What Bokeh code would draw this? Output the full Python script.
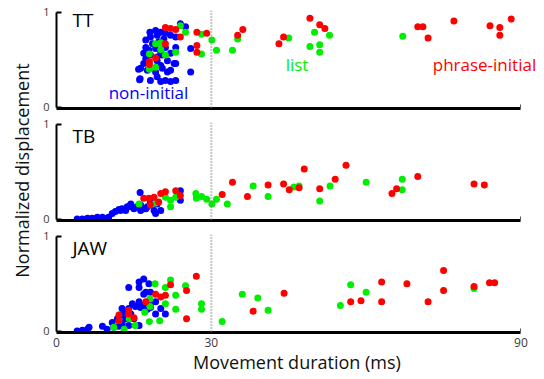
from bokeh.plotting import figure
from bokeh.layouts import row, column
from bokeh.models import Range1d, FixedTicker, Span, Label
from bokeh.embed import file_html
from bokeh.resources import INLINE

# ---------------- data (x = movement duration in ms, y = normalized displacement) -------------
tt_blue_x = [18.1, 19.2, 20.2, 21.1, 22.1, 23.1, 25.0, 24.0, 18.2, 19.5, 20.8, 17.3, 18.6, 19.8,
             17.3, 17.9, 19.2, 20.2, 21.1, 22.1, 16.9, 17.3, 18.2, 19.5, 20.5, 21.5, 22.8, 16.9,
             16.3, 17.6, 19.2, 20.5, 21.5, 22.1, 19.5, 21.1, 22.1, 20.2, 18.2, 16.2, 23.1, 26.0,
             26.0, 23.1, 19.5, 20.2, 15.9, 16.1, 23.1]
tt_blue_y = [0.79, 0.81, 0.79, 0.78, 0.76, 0.74, 0.85, 0.88, 0.74, 0.76, 0.72, 0.71, 0.67, 0.69,
             0.63, 0.60, 0.62, 0.58, 0.63, 0.57, 0.57, 0.51, 0.55, 0.53, 0.55, 0.49, 0.46, 0.46,
             0.41, 0.39, 0.37, 0.41, 0.37, 0.39, 0.32, 0.28, 0.27, 0.27, 0.28, 0.30, 0.28, 0.37,
             0.62, 0.46, 0.49, 0.44, 0.40, 0.29, 0.63]
tt_green_x = [24.0, 25.0, 28.1, 30.1, 28.1, 31.0, 34.1, 35.1, 45.0, 50.0, 52.9, 49.1, 51.0, 51.0,
              67.1, 18.0, 18.0, 19.2, 21.1, 23.1, 20.2, 19.2, 20.2]
tt_green_y = [0.86, 0.79, 0.77, 0.71, 0.56, 0.60, 0.60, 0.72, 0.73, 0.79, 0.76, 0.64, 0.66, 0.58,
              0.75, 0.56, 0.40, 0.42, 0.55, 0.58, 0.68, 0.67, 0.61]
tt_red_x = [21.1, 22.1, 23.1, 24.0, 27.2, 29.1, 27.2, 27.2, 35.1, 36.1, 43.1, 44.0, 49.1, 51.0,
            52.0, 70.0, 71.0, 72.0, 77.0, 84.0, 85.9, 85.9, 88.1, 18.0, 18.0, 19.2, 21.1]
tt_red_y = [0.84, 0.83, 0.82, 0.74, 0.79, 0.78, 0.65, 0.58, 0.76, 0.82, 0.67, 0.74, 0.94, 0.87,
            0.83, 0.85, 0.85, 0.73, 0.91, 0.86, 0.84, 0.76, 0.93, 0.48, 0.45, 0.52, 0.67]

tb_blue_x = [4.0, 5.0, 6.0, 6.9, 7.9, 8.9, 9.8, 10.1, 10.8, 11.4, 12.1, 12.7, 13.4, 14.0, 14.4,
             15.0, 15.6, 16.3, 16.9, 17.6, 16.2, 18.9, 19.2, 20.2, 24.0, 24.0, 18.2, 19.5, 13.7,
             12.4, 16.3, 17.3]
tb_blue_y = [0.0, 0.0, 0.01, 0.01, 0.02, 0.02, 0.01, 0.02, 0.06, 0.08, 0.10, 0.11, 0.09, 0.13,
             0.16, 0.11, 0.13, 0.15, 0.11, 0.13, 0.28, 0.09, 0.06, 0.09, 0.30, 0.20, 0.18, 0.16,
             0.13, 0.09, 0.09, 0.11]
tb_green_x = [16.0, 19.2, 21.1, 22.1, 22.1, 23.1, 27.0, 27.1, 28.1, 29.1, 30.1, 31.0, 33.1, 38.1,
              41.0, 47.0, 46.0, 51.0, 53.0, 60.0, 67.0, 67.0]
tb_green_y = [0.16, 0.17, 0.23, 0.20, 0.13, 0.23, 0.27, 0.22, 0.24, 0.21, 0.16, 0.21, 0.16, 0.35,
              0.24, 0.35, 0.34, 0.19, 0.35, 0.39, 0.42, 0.31]
tb_red_x = [16.9, 17.9, 18.9, 20.2, 21.1, 23.1, 24.0, 18.2, 19.8, 34.1, 32.1, 37.0, 41.0, 44.0,
            45.1, 47.0, 48.0, 51.0, 54.0, 56.1, 65.0, 65.9, 70.0, 80.9, 82.9]
tb_red_y = [0.22, 0.22, 0.23, 0.27, 0.29, 0.30, 0.25, 0.15, 0.18, 0.39, 0.26, 0.24, 0.36, 0.37,
            0.31, 0.33, 0.53, 0.32, 0.42, 0.57, 0.27, 0.32, 0.45, 0.37, 0.36]

jaw_blue_x = [4.0, 5.0, 6.0, 6.3, 8.9, 9.8, 10.8, 11.1, 12.1, 12.7, 11.8, 12.4, 13.4, 12.7, 14.0,
              14.4, 14.7, 15.3, 16.0, 16.3, 16.9, 17.6, 18.2, 16.0, 16.9, 17.9, 16.0, 14.0, 17.3,
              18.2, 19.2, 20.2, 21.1, 19.2, 14.0, 16.0, 18.2, 16.9, 15.0, 13.4]
jaw_blue_y = [0.0, 0.01, 0.02, 0.04, 0.05, 0.02, 0.09, 0.04, 0.05, 0.08, 0.13, 0.17, 0.20, 0.24,
              0.24, 0.18, 0.29, 0.26, 0.31, 0.25, 0.27, 0.23, 0.25, 0.52, 0.55, 0.50, 0.46, 0.46,
              0.41, 0.41, 0.31, 0.24, 0.18, 0.18, 0.06, 0.06, 0.29, 0.39, 0.13, 0.13]
jaw_green_x = [11.1, 13.1, 15.2, 14.1, 17.1, 18.1, 18.1, 18.0, 19.1, 20.0, 21.1, 21.1, 22.1, 23.1,
               23.1, 25.0, 28.1, 28.1, 32.1, 36.0, 39.0, 41.0, 55.0, 57.0, 60.0, 80.9]
jaw_green_y = [0.04, 0.02, 0.06, 0.13, 0.20, 0.26, 0.34, 0.10, 0.50, 0.11, 0.46, 0.29, 0.54, 0.38,
               0.23, 0.48, 0.29, 0.23, 0.10, 0.39, 0.35, 0.22, 0.27, 0.49, 0.41, 0.45]
jaw_red_x = [12.1, 12.1, 14.0, 14.0, 15.0, 17.3, 19.2, 20.2, 21.1, 22.1, 25.2, 25.2, 27.1, 38.1,
             44.1, 57.0, 59.0, 63.0, 63.0, 67.9, 72.0, 75.0, 75.0, 80.9, 83.9, 84.9]
jaw_red_y = [0.17, 0.11, 0.22, 0.18, 0.14, 0.31, 0.39, 0.36, 0.38, 0.49, 0.43, 0.13, 0.58, 0.21,
             0.40, 0.31, 0.32, 0.52, 0.31, 0.50, 0.31, 0.64, 0.43, 0.47, 0.51, 0.51]

x_ticks = [0, 30, 90]
y_ticks = [0, 1]
boundary_ms = 30
panel_names = ["TT", "TB", "JAW"]
panel_label_y = [0.92, 0.88, 0.88]

BLUE = "#0000ff"
GREEN = "#00ee00"
RED = "#ff0000"
FONT = "Open Sans"
TICK_COL = "#3a3a3a"


def make_panel(name, label_y, bx, by, gx, gy, rx, ry, bottom, top_border, bottom_border):
    p = figure(frame_width=481, frame_height=98,
               x_range=Range1d(0, 93.2), y_range=Range1d(-0.015, 1.021),
               output_backend="svg", toolbar_location=None,
               min_border_left=18, min_border_right=2,
               min_border_top=top_border, min_border_bottom=bottom_border,
               outline_line_color=None, background_fill_color="white")
    p.grid.visible = False

    p.scatter(bx, by, size=7, fill_color=BLUE, line_color=None)
    p.scatter(gx, gy, size=7, fill_color=GREEN, line_color=None)
    p.scatter(rx, ry, size=7, fill_color=RED, line_color=None)

    p.add_layout(Span(location=boundary_ms, dimension="height", line_color="#8a8a8a",
                      line_width=2, line_dash="1 2"))

    ya = p.yaxis[0]
    ya.ticker = FixedTicker(ticks=y_ticks)
    ya.bounds = (0, 1)
    ya.axis_line_width = 2
    ya.axis_line_color = "black"
    ya.major_tick_in = 5
    ya.major_tick_out = 0
    ya.major_tick_line_width = 2
    ya.minor_tick_line_color = None
    ya.major_label_text_font = FONT
    ya.major_label_text_font_size = "11px"
    ya.major_label_text_color = TICK_COL
    ya.major_label_standoff = 7

    xa = p.xaxis[0]
    xa.bounds = (0, 90)
    xa.axis_line_width = 3
    xa.axis_line_color = "black"
    xa.major_tick_in = 0
    xa.major_tick_out = 0
    xa.minor_tick_in = 4
    xa.minor_tick_out = 0
    xa.minor_tick_line_color = "#555555"
    xa.minor_tick_line_width = 1
    if bottom:
        xa.ticker = FixedTicker(ticks=x_ticks, minor_ticks=[90])
        xa.major_label_text_font = FONT
        xa.major_label_text_font_size = "12px"
        xa.major_label_text_color = TICK_COL
        xa.major_label_standoff = 5
        xa.axis_label = "Movement duration (ms)"
        xa.axis_label_text_font = FONT
        xa.axis_label_text_font_size = "18px"
        xa.axis_label_text_font_style = "normal"
        xa.axis_label_text_color = "#111111"
        xa.axis_label_standoff = 0
    else:
        xa.ticker = FixedTicker(ticks=[], minor_ticks=[90])

    p.add_layout(Label(x=3.1, y=label_y, text=name, text_font=FONT, text_font_size="19px",
                       text_color="black", text_baseline="alphabetic"))
    return p


p_tt = make_panel(panel_names[0], panel_label_y[0], tt_blue_x, tt_blue_y, tt_green_x,
                  tt_green_y, tt_red_x, tt_red_y, False, 10, 7)
p_tb = make_panel(panel_names[1], panel_label_y[1], tb_blue_x, tb_blue_y, tb_green_x,
                  tb_green_y, tb_red_x, tb_red_y, False, 7, 7)
p_jaw = make_panel(panel_names[2], panel_label_y[2], jaw_blue_x, jaw_blue_y, jaw_green_x,
                   jaw_green_y, jaw_red_x, jaw_red_y, True, 7, 40)

p_tt.add_layout(Label(x=10.1, y=0.15, text="non-initial", text_font=FONT,
                      text_font_size="17px", text_color=BLUE, text_baseline="alphabetic"))
p_tt.add_layout(Label(x=44.4, y=0.445, text="list", text_font=FONT,
                      text_font_size="17px", text_color=GREEN, text_baseline="alphabetic"))
p_tt.add_layout(Label(x=72.9, y=0.445, text="phrase-initial", text_font=FONT,
                      text_font_size="17px", text_color=RED, text_baseline="alphabetic"))

H = 115 + 112 + 145
lab = figure(width=38, height=H, x_range=Range1d(0, 38), y_range=Range1d(0, H),
             output_backend="svg", toolbar_location=None, min_border=0,
             x_axis_location=None, y_axis_location=None, outline_line_color=None)
lab.grid.visible = False
lab.add_layout(Label(x=21, y=H - 170, text="Normalized displacement", angle=90,
                     angle_units="deg", text_align="center", text_baseline="middle",
                     text_font=FONT, text_font_size="18px", text_color="#111111"))

layout = row(lab, column(p_tt, p_tb, p_jaw))

open("out.html", "w").write(file_html(layout, INLINE))
